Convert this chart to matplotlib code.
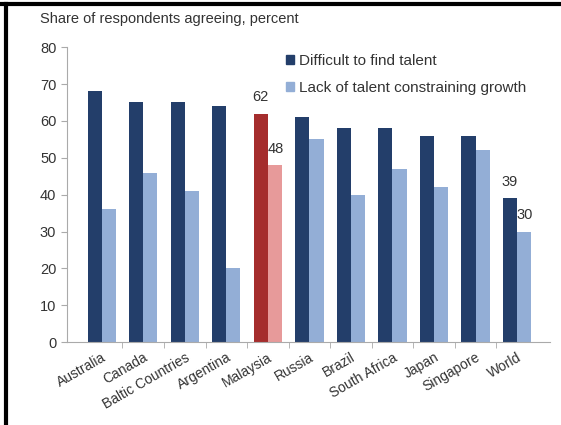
import matplotlib
matplotlib.use("Agg")
import matplotlib.pyplot as plt
import numpy as np

countries = ["Australia", "Canada", "Baltic Countries", "Argentina", "Malaysia",
             "Russia", "Brazil", "South Africa", "Japan", "Singapore", "World"]
difficult = [68, 65, 65, 64, 62, 61, 58, 58, 56, 56, 39]
constraining = [36, 46, 41, 20, 48, 55, 40, 47, 42, 52, 30]
yticks = [0, 10, 20, 30, 40, 50, 60, 70, 80]

dark = "#233e6a"
light = "#93aed6"
dark_hl = "#a52d2d"
light_hl = "#e79a9a"
txt = "#333333"

plt.rcParams["font.family"] = ["Liberation Sans", "DejaVu Sans"]

fig = plt.figure(figsize=(5.61, 4.25), dpi=100)
ax = fig.add_axes([0.119, 0.195, 0.862, 0.694])

x = np.arange(len(countries))
w = 0.34
c1 = [dark_hl if c == "Malaysia" else dark for c in countries]
c2 = [light_hl if c == "Malaysia" else light for c in countries]
ax.bar(x - w / 2, difficult, w, color=c1, label="Difficult to find talent")
ax.bar(x + w / 2, constraining, w, color=c2, label="Lack of talent constraining growth")

# value labels for the highlighted groups
for name in ["Malaysia", "World"]:
    i = countries.index(name)
    ax.text(i - w / 2, difficult[i] + 2.5, str(difficult[i]), ha="center",
            va="bottom", fontsize=10.5, color=txt)
    ax.text(i + w / 2 + 0.02, constraining[i] + 2.5, str(constraining[i]),
            ha="center", va="bottom", fontsize=10.5, color=txt)

ax.set_xlim(-0.84, 10.8)
ax.set_ylim(0, 80)
ax.set_yticks(yticks)
ax.tick_params(axis="y", labelsize=10.5, colors=txt, length=4, color="#aaaaaa")
ax.set_xticks(x)
ax.set_xticklabels(countries, rotation=30, ha="right", rotation_mode="anchor",
                   fontsize=10, color=txt)
ax.tick_params(axis="x", length=0, pad=6)
ax.set_xticks(x[1:] - 0.5, minor=True)
ax.tick_params(axis="x", which="minor", length=4, color="#aaaaaa")

for s in ["top", "right"]:
    ax.spines[s].set_visible(False)
ax.spines["left"].set_color("#aaaaaa")
ax.spines["bottom"].set_color("#aaaaaa")

leg = ax.legend(loc="upper left", bbox_to_anchor=(0.425, 1.025), frameon=False,
                fontsize=11, handlelength=0.55, handleheight=0.55,
                handletextpad=0.3, labelspacing=0.85)
for t in leg.get_texts():
    t.set_color(txt)
leg.legend_handles[0].set_color(dark)
leg.legend_handles[1].set_color(light)

fig.text(0.071, 0.955, "Share of respondents agreeing, percent", fontsize=10.5,
         color=txt, va="center")

# black frame lines on the left and top edge
fig.add_artist(plt.Line2D([0.011, 0.011], [0, 0.99], color="black", lw=3))
fig.add_artist(plt.Line2D([0.0, 1.0], [0.99, 0.99], color="black", lw=3))

fig.savefig("out.png", dpi=100)
